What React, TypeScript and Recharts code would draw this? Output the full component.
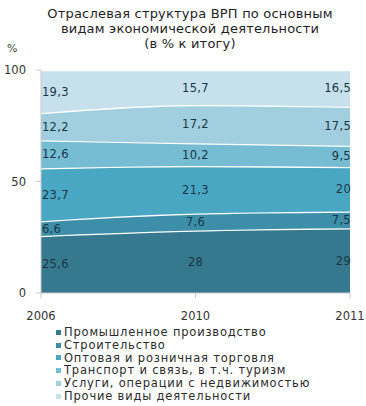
import { Area, AreaChart, XAxis, YAxis } from 'recharts'

const years = ['2006', '2010', '2011']

const industry = [25.6, 28, 29]
const construction = [6.6, 7.6, 7.5]
const trade = [23.7, 21.3, 20]
const transport = [12.6, 10.2, 9.5]
const services = [12.2, 17.2, 17.5]
const other = [19.3, 15.7, 16.5]

const seriesNames = [
  'Промышленное производство',
  'Строительство',
  'Оптовая и розничная торговля',
  'Транспорт и связь, в т.ч. туризм',
  'Услуги, операции с недвижимостью',
  'Прочие виды деятельности',
]

const yTicks = [0, 50, 100]

const COLORS = ['#36798f', '#3d8fa9', '#49a7c3', '#76bcd2', '#a2cfdf', '#c6e1ec']

const FONT = '"DejaVu Sans", Verdana, sans-serif'
const W = 366
const H = 326
const MARGIN = { top: 70, right: 16, left: 0, bottom: 2 }
const X_AXIS_H = 31
const PLOT_H = H - MARGIN.top - MARGIN.bottom - X_AXIS_H

const seriesValues = [industry, construction, trade, transport, services, other]
const keys = ['s0', 's1', 's2', 's3', 's4', 's5']

const chartData = years.map((year, i) => {
  const row: Record<string, string | number> = { year }
  seriesValues.forEach((vals, s) => {
    row[keys[s]] = vals[i]
  })
  return row
})

// label sits in the middle of its band: y is the band top, go down half the band
function bandLabel(values: number[]) {
  return (props: any) => {
    const { x, y, index } = props
    const v = values[index]
    const mid = y + (v / 2) * (PLOT_H / 100)
    const anchor = index === 0 ? 'start' : index === values.length - 1 ? 'end' : 'middle'
    const dx = index === 0 ? 1 : index === values.length - 1 ? 1 : 0
    return (
      <text
        key={`l-${index}`}
        x={x + dx}
        y={mid}
        textAnchor={anchor}
        dominantBaseline="central"
        fill="#1a3646"
        fontSize={11.5}
        fontFamily={FONT}
        letterSpacing={0.3}
      >
        {String(v).replace('.', ',')}
      </text>
    )
  }
}

export default function App() {
  return (
    <div
      style={{
        position: 'absolute',
        left: 0,
        top: 0,
        width: W,
        height: 406,
        background: '#fff',
        fontFamily: FONT,
      }}
    >
      <div
        style={{
          position: 'absolute',
          top: 6,
          left: 0,
          width: 380,
          textAlign: 'center',
          fontSize: 13,
          lineHeight: '15px',
          color: '#1e1e1e',
          letterSpacing: 0.2,
        }}
      >
        Отраслевая структура ВРП по основным
        <br />
        видам экономической деятельности
        <br />
        (в % к итогу)
      </div>
      <div style={{ position: 'absolute', top: 42, left: 7, fontSize: 11, color: '#444' }}>%</div>
      <div style={{ position: 'absolute', top: 0, left: 0 }}>
        <AreaChart width={W} height={H} data={chartData} margin={MARGIN}>
          <XAxis
            dataKey="year"
            height={X_AXIS_H}
            tickSize={5}
            tickMargin={14}
            stroke="#c8c8c8"
            tick={{ fill: '#333', fontSize: 11.5, fontFamily: FONT }}
            interval={0}
          />
          <YAxis
            width={41}
            domain={[0, 100]}
            ticks={yTicks}
            tickSize={5}
            tickMargin={10}
            stroke="#c8c8c8"
            tick={{ fill: '#333', fontSize: 11.5, fontFamily: FONT }}
          />
          {keys.map((k, s) => (
            <Area
              key={k}
              dataKey={k}
              stackId="a"
              type="monotone"
              fill={COLORS[s]}
              fillOpacity={1}
              stroke="#ffffff"
              strokeWidth={2.5}
              isAnimationActive={false}
              label={bandLabel(seriesValues[s])}
            />
          ))}
        </AreaChart>
      </div>
      <div style={{ position: 'absolute', top: 326, left: 56 }}>
        {seriesNames.map((name, s) => (
          <div
            key={name}
            style={{
              display: 'flex',
              alignItems: 'center',
              height: 12.8,
              lineHeight: '12.8px',
              fontSize: 11.5,
              color: '#2b2b2b',
              whiteSpace: 'nowrap',
              letterSpacing: 0.8,
            }}
          >
            <span
              style={{
                display: 'inline-block',
                width: 5,
                height: 5,
                background: COLORS[s],
                marginRight: 3,
              }}
            />
            {name}
          </div>
        ))}
      </div>
    </div>
  )
}
